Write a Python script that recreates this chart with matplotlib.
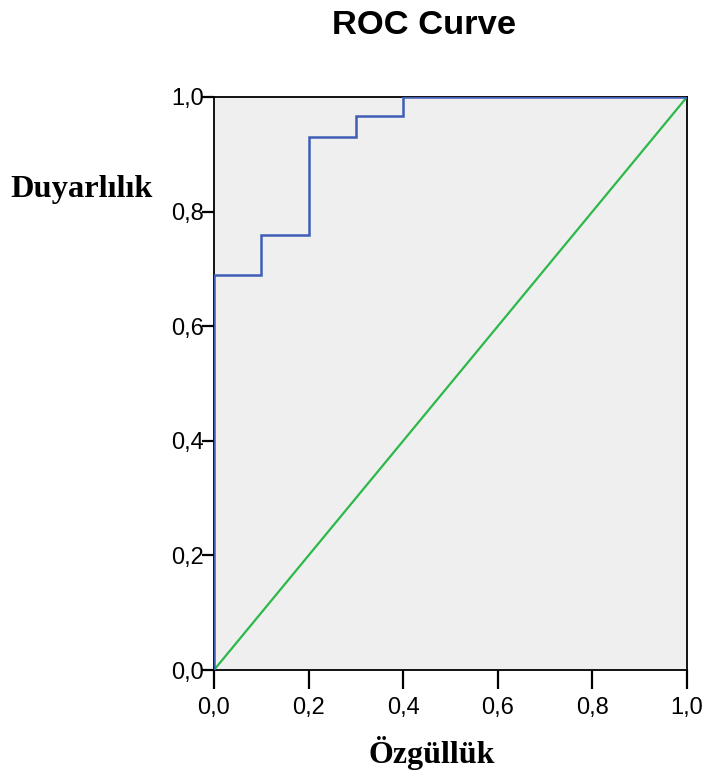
import matplotlib
matplotlib.use("Agg")
import matplotlib.pyplot as plt

# ROC step curve (1 - specificity, sensitivity)
fpr = [0.0, 0.0, 0.1, 0.1, 0.2, 0.2, 0.3, 0.3, 0.4, 0.4, 1.0]
tpr = [0.0, 0.690, 0.690, 0.759, 0.759, 0.931, 0.931, 0.966, 0.966, 1.0, 1.0]
ref_x = [0.0, 1.0]
ref_y = [0.0, 1.0]
ticks = [0.0, 0.2, 0.4, 0.6, 0.8, 1.0]
tick_labels = ["0,0", "0,2", "0,4", "0,6", "0,8", "1,0"]

fig = plt.figure(figsize=(7.12, 7.76), dpi=100)
ax = fig.add_axes([214/712, 1-670/776, (687-214)/712, (670-97)/776])
ax.set_facecolor("#efefef")

ax.plot(ref_x, ref_y, color="#2db84a", lw=1.6, zorder=3)
ax.plot(fpr, tpr, color="#3f5db5", lw=1.8, zorder=4, solid_joinstyle="miter")

ax.set_xlim(0, 1)
ax.set_ylim(0, 1)
ax.set_xticks(ticks)
ax.set_xticklabels(tick_labels)
ax.set_yticks(ticks)
ax.set_yticklabels(tick_labels)

for s in ax.spines.values():
    s.set_linewidth(1.3)
    s.set_color("black")

ax.tick_params(axis="x", direction="out", length=13.5, width=1.6, pad=6,
               labelsize=17, labelfontfamily="Liberation Sans")
ax.tick_params(axis="y", direction="out", length=9, width=1.6, pad=-2,
               labelsize=17, labelfontfamily="Liberation Sans")

fig.text(424/712, 1-26/776, "ROC Curve", ha="center", va="center",
         fontsize=24.8, fontweight="bold", family="Liberation Sans")
fig.text(82/712, 1-189/776, "Duyarlılık", ha="center", va="center",
         fontsize=23.3, fontweight="bold", family="Liberation Serif")
fig.text(432/712, 1-753/776, "Özgüllük", ha="center", va="center",
         fontsize=23, fontweight="bold", family="Liberation Serif")

fig.savefig("out.png", dpi=100)
